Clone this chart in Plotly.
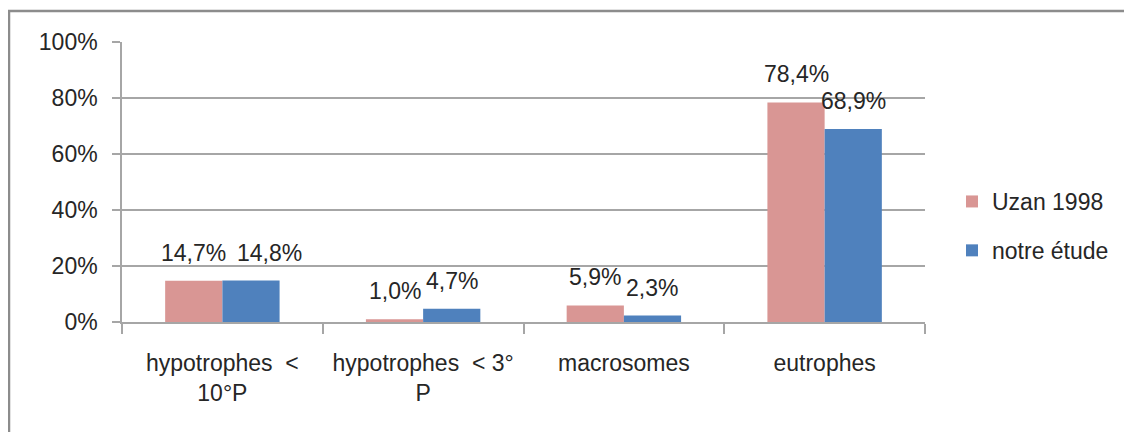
import plotly.graph_objects as go

categories = ["hypotrophes\u00a0\u00a0&lt;<br>10°P", "hypotrophes\u00a0\u00a0&lt; 3°<br>P", "macrosomes", "eutrophes"]
uzan = [0.147, 0.010, 0.059, 0.784]
notre = [0.148, 0.047, 0.023, 0.689]
series_names = ["Uzan 1998", "notre étude"]
colors = ["#D99694", "#4F81BD"]
ytick_vals = [0, 0.2, 0.4, 0.6, 0.8, 1.0]

FONT = "Liberation Sans"
FS = 23
OFF = 8  # page body margin
W, H = 1132 - OFF, 432 - OFF
L, T = 122 - OFF, 42 - OFF
R = W - (925 - OFF)
B = H - (322 - OFF)
pw = W - L - R
ph = H - T - B

fig = go.Figure()
for i, (name, vals) in enumerate(zip(series_names, [uzan, notre])):
    fig.add_trace(go.Bar(
        x=categories, y=vals, name=name, marker_color=colors[i],
        marker_line_width=0, legendgroup=f"g{i}",
    ))

bargap = 0.43
cat_px = pw / len(categories)
bar_px = cat_px * (1 - bargap) / 2
annotations = []
for i, vals in enumerate([uzan, notre]):
    off = (i - 0.5) * bar_px
    for j, v in enumerate(vals):
        extra = 0
        if j == 0 and i == 1:
            extra = 19
        annotations.append(dict(
            x=categories[j], y=v, xref="x", yref="y",
            text=f"{v*100:.1f}%".replace(".", ","),
            showarrow=False, xshift=off + extra, yshift=13,
            yanchor="bottom", font=dict(family=FONT, size=FS, color="#262626"),
        ))

def px_x(px):
    return (px - OFF - L) / pw

def px_y(py):
    return (H - B - (py - OFF)) / ph

border = "#8C8C8C"
shapes = [
    dict(type="line", xref="paper", yref="paper", x0=px_x(8), x1=px_x(1140), y0=px_y(11), y1=px_y(11),
         line=dict(color=border, width=2.5)),
    dict(type="line", xref="paper", yref="paper", x0=px_x(9), x1=px_x(9), y0=px_y(11), y1=px_y(440),
         line=dict(color=border, width=2.5)),
]

grid = "#A6A6A6"
fig.update_layout(
    width=W, height=H,
    margin=dict(l=L, r=R, t=T, b=B, pad=0),
    paper_bgcolor="white", plot_bgcolor="white",
    barmode="group", bargap=bargap, bargroupgap=0,
    separators=", ",
    font=dict(family=FONT, size=FS, color="#262626"),
    showlegend=True,
    legend=dict(x=px_x(952), xanchor="left", y=px_y(180), yanchor="top",
                font=dict(family=FONT, size=FS, color="#262626"),
                tracegroupgap=16, traceorder="grouped", bgcolor="rgba(0,0,0,0)"),
    annotations=annotations,
    shapes=shapes,
    xaxis=dict(showline=True, linecolor=grid, linewidth=1.5, ticks="outside", ticklen=10,
               tickcolor=grid, tickwidth=1.5, tickson="boundaries", showgrid=False,
               ticklabelstandoff=20, tickfont=dict(family=FONT, size=FS, color="#262626")),
    yaxis=dict(range=[0, 1], tickvals=ytick_vals, tickformat=".0%", showline=True, linecolor=grid,
               linewidth=1.5, ticks="outside", ticklen=8, tickcolor=grid, tickwidth=1.5,
               showgrid=True, gridcolor=grid, gridwidth=1.5, zeroline=False,
               ticklabelstandoff=10, tickfont=dict(family=FONT, size=FS, color="#262626")),
)

fig.write_html("out.html")
